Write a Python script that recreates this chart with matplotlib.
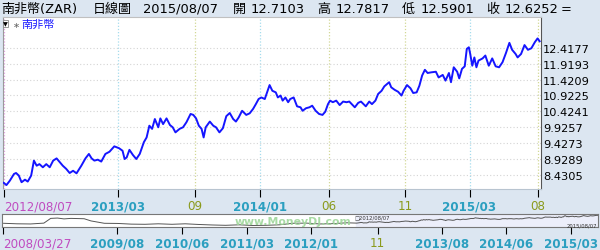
import matplotlib
matplotlib.use("Agg")
import matplotlib.pyplot as plt
from matplotlib.patches import Rectangle

plt.rcParams['font.family'] = ['DejaVu Sans', 'Noto Sans CJK TC']

# 南非幣 daily close, x = trading-day index counted from 2012/08/07
days = [0, 4, 9, 15, 18, 22, 26, 31, 35, 40, 44, 48, 52, 57, 62, 67, 72, 77, 81, 86,
        91, 96, 101, 106, 113, 119, 124, 128, 132, 137, 142, 148, 154, 161, 168, 173, 176, 179, 183, 188,
        193, 198, 204, 208, 212, 216, 220, 225, 228, 232, 237, 242, 246, 250, 256, 261, 266, 272, 276, 280,
        284, 288, 291, 294, 300, 305, 309, 314, 319, 324, 329, 334, 338, 342, 347, 353, 358, 363, 367, 371,
        375, 380, 385, 387, 391, 396, 399, 403, 406, 410, 414, 417, 422, 427, 432, 435, 440, 445, 449, 454,
        459, 464, 468, 472, 475, 479, 484, 489, 494, 499, 503, 511, 516, 520, 527, 532, 536, 541, 545, 550,
        554, 561, 564, 569, 574, 579, 582, 587, 592, 596, 601, 605, 609, 613, 617, 622, 629, 633, 639, 643,
        648, 651, 655, 660, 663, 667, 671, 674, 677, 679, 682, 685, 688, 691, 697, 701, 706, 711, 716, 721,
        726, 731, 736, 740, 745, 748, 753, 758, 763, 768, 773, 777, 780]
close = [8.17, 8.10, 8.24, 8.45, 8.48, 8.40, 8.19, 8.27, 8.21, 8.40, 8.87, 8.71, 8.76, 8.66, 8.76, 8.66, 8.87, 8.94, 8.84, 8.71,
         8.61, 8.48, 8.55, 8.47, 8.71, 8.94, 9.08, 8.94, 8.87, 8.90, 8.84, 9.08, 9.15, 9.32, 9.26, 9.18, 8.92, 8.97, 9.21, 9.05,
         8.92, 9.08, 9.45, 9.60, 9.97, 9.87, 10.18, 9.92, 10.20, 10.02, 10.20, 9.99, 9.92, 9.76, 9.87, 9.92, 10.08, 10.34, 10.31, 10.20,
         9.97, 9.87, 9.60, 9.92, 10.10, 9.97, 9.92, 9.76, 9.89, 10.27, 10.37, 10.18, 10.10, 10.23, 10.44, 10.31, 10.36, 10.50, 10.65, 10.81,
         10.86, 10.81, 11.13, 11.25, 11.07, 11.02, 10.86, 10.92, 10.76, 10.86, 10.71, 10.81, 10.86, 10.58, 10.55, 10.44, 10.52, 10.55, 10.60, 10.44,
         10.34, 10.31, 10.41, 10.65, 10.76, 10.71, 10.76, 10.62, 10.73, 10.71, 10.73, 10.55, 10.69, 10.73, 10.58, 10.73, 10.65, 10.76, 10.97, 11.07,
         11.21, 11.34, 11.18, 11.10, 11.04, 10.92, 11.07, 11.25, 11.15, 11.00, 11.02, 11.23, 11.55, 11.73, 11.63, 11.65, 11.67, 11.49, 11.57, 11.39,
         11.63, 11.34, 11.81, 11.67, 11.46, 11.76, 11.84, 12.39, 12.44, 12.23, 11.86, 12.12, 11.81, 12.02, 12.09, 12.18, 11.86, 12.09, 11.84, 11.81,
         11.97, 12.26, 12.58, 12.36, 12.23, 12.12, 12.23, 12.51, 12.36, 12.41, 12.60, 12.72, 12.63]

# longer history for the navigator strip (same day index, before 2012/08/07)
hist_days = [-1135, -1092, -1048, -1005, -983, -961, -940, -918, -875, -853, -810, -766, -723, -679, -636,
             -592, -549, -506, -462, -419, -375, -332, -289, -245, -202, -158, -115, -71, -28]
hist_close = [8.0, 7.7, 7.6, 8.1, 10.9, 11.1, 10.6, 10.9, 10.7, 9.4, 8.0, 7.9, 7.5, 7.4, 7.7,
              7.4, 7.7, 7.3, 7.0, 6.8, 7.1, 6.7, 6.8, 7.1, 8.0, 8.1, 7.6, 7.8, 8.3]

yticks = [8.4305, 8.9289, 9.4273, 9.9257, 10.4241, 10.9225, 11.4209, 11.9193, 12.4177]

xtick_pos = [0, 167, 278, 373, 473, 584, 678, 777]
xtick_lab = ['2012/08/07', '2013/03', '09', '2014/01', '06', '11', '2015/03', '08']
xtick_kind = ['start', 'year', 'month', 'year', 'month', 'month', 'year', 'month']

nav_pos = [-1137, -770, -560, -351, -142, 71, 280, 486, 696]
nav_lab = ['2008/03/27', '2009/08', '2010/06', '2011/03', '2012/01', '11', '2013/08', '2014/06', '2015/03']
nav_kind = ['start', 'year', 'year', 'year', 'year', 'month', 'year', 'year', 'year']

title_parts = [('南非幣(ZAR)', 1), ('日線圖', 93), ('2015/08/07', 143), ('開', 233), ('12.7103', 251),
               ('高', 317), ('12.7817', 336), ('低', 402), ('12.5901', 421), ('收', 486),
               ('12.6252', 505), ('=', 561)]

label_col = {'start': '#c04cc0', 'year': '#2b9fc0', 'month': '#8a9a1c'}
grid_col = {'start': '#e6a6e6', 'year': '#a6dced', 'month': '#d2d896'}
bg = '#dce6f1'

W, H = 600, 251
fig = plt.figure(figsize=(6.0, 2.51), dpi=100, facecolor=bg)


def fx(px):
    return px / W


def fy(py):
    return 1 - py / H


# title bar
for txt, px in title_parts:
    fig.text(fx(px), fy(9.5), txt, fontsize=9.4, color='black', ha='left', va='center')

# main chart
ax = fig.add_axes([fx(3), fy(190), fx(541) - fx(3), fy(18) - fy(190)])
ax.set_facecolor('white')
ax.plot(days, close, color='#1515ff', lw=1.4, zorder=3)
ax.set_xlim(-1, 782)
ax.set_ylim(7.976, 13.394)

ax.yaxis.tick_right()
ax.set_yticks(yticks, [f'{v:.4f}' for v in yticks])
ax.tick_params(axis='y', length=0, pad=1.5, labelsize=8.2, labelcolor='black')
ax.grid(axis='y', ls=(0, (1, 2)), color='#d4d4d4', lw=0.8)

ax.set_xticks(xtick_pos, xtick_lab)
ax.tick_params(axis='x', length=6, width=0.8, pad=1.5, labelsize=8.6)
for tick, lab, kind in zip(ax.xaxis.get_major_ticks(), ax.get_xticklabels(), xtick_kind):
    tick.tick1line.set_color(grid_col[kind] if kind != 'start' else '#d070d0')
    lab.set_color(label_col[kind])
    if kind == 'year':
        lab.set_fontweight('bold')
    if kind == 'start':
        lab.set_ha('left')
for p, kind in zip(xtick_pos, xtick_kind):
    ax.axvline(p, color=grid_col[kind], ls=(0, (1, 1.5)), lw=0.9, zorder=1)

for side, col in [('left', '#9a9a9a'), ('top', '#c0c0c0'), ('bottom', '#b8c4d0'), ('right', '#555555')]:
    ax.spines[side].set_color(col)
    ax.spines[side].set_linewidth(0.8)

# legend box
fig.patches.append(Rectangle((fx(3.3), fy(28)), fx(5), fy(20.5) - fy(28), transform=fig.transFigure,
                             facecolor='white', edgecolor='#888888', lw=0.6, zorder=5))
fig.text(fx(5.8), fy(24.3), '▼', fontsize=4.5, color='black', ha='center', va='center', zorder=6)
fig.text(fx(16), fy(25), '∗', fontsize=6, color='#666666', ha='center', va='center')
fig.text(fx(21.5), fy(25), '南非幣', fontsize=8, color='#1a1aff', ha='left', va='center')

# navigator strip
nav = fig.add_axes([fx(2), fy(228), fx(598) - fx(2), fy(214.5) - fy(228)])
nav.set_facecolor('white')
nav.axvspan(0, days[-1], color='#eceefa', zorder=0)
nav.plot(hist_days + days, hist_close + close, color='#555555', lw=0.7, zorder=2)
nav.set_xlim(-1140, 782)
nav.set_ylim(5.8, 13.8)
nav.set_yticks([])
nav.set_xticks(nav_pos, nav_lab)
nav.tick_params(axis='x', length=5, width=0.8, pad=1.5, labelsize=8.6)
for tick, lab, kind in zip(nav.xaxis.get_major_ticks(), nav.get_xticklabels(), nav_kind):
    tick.tick1line.set_color(grid_col[kind] if kind != 'start' else '#d070d0')
    lab.set_color(label_col[kind])
    if kind == 'year':
        lab.set_fontweight('bold')
    if kind == 'start':
        lab.set_ha('left')
for side in nav.spines:
    nav.spines[side].set_color('#777777')
    nav.spines[side].set_linewidth(0.8)

fig.text(fx(293), fy(222.5), 'www.MoneyDJ.com', fontsize=7.8, fontweight='bold', color='#9fd69a',
         alpha=0.9, ha='center', va='center', zorder=10)
fig.text(fx(355), fy(217.3), '□' + xtick_lab[0], fontsize=3.8, color='#333333', ha='left', va='center',
         zorder=10)
fig.text(fx(597), fy(226), '2015/08/07', fontsize=3.8, color='#333333', ha='right', va='center', zorder=10)

fig.savefig('out.png', dpi=100, facecolor=bg)
